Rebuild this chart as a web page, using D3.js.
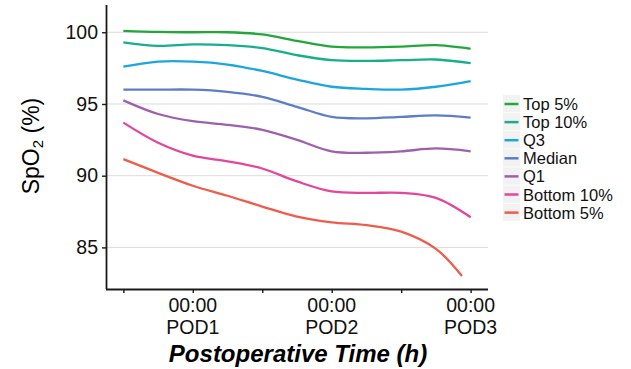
<!DOCTYPE html>
<html><head><meta charset="utf-8">
<script src="https://cdn.jsdelivr.net/npm/d3@7"></script>
<style>body{margin:0;background:#fff}svg{display:block}text{font-family:"Liberation Sans",Arial,Helvetica,sans-serif}</style>
</head><body><svg id="c" width="631" height="369"></svg>
<script>
const hours = [12,18,24,30,36,42,48,54,60,66,72];
const hoursB5 = [12,18,24,30,36,42,48,54,60,66,70.5];
const seriesNames = ["Top 5%","Top 10%","Q3","Median","Q1","Bottom 10%","Bottom 5%"];
const colors = ["#22a83a","#17ae8b","#1ba6de","#5d7ec6","#9d60ae","#e2479b","#ee5d4b"];
const top5 = [100.1,100.02,100.0,100.0,99.85,99.4,99.0,98.95,99.0,99.1,98.85];
const top10 = [99.3,99.05,99.15,99.1,98.9,98.4,98.05,98.0,98.05,98.1,97.85];
const q3 = [97.6,97.95,97.95,97.75,97.3,96.7,96.2,96.05,96.0,96.2,96.6];
const median = [96.0,96.0,96.0,95.85,95.5,94.8,94.1,94.0,94.1,94.2,94.05];
const q1 = [95.25,94.3,93.8,93.55,93.2,92.5,91.7,91.6,91.7,91.9,91.7];
const bottom10 = [93.7,92.3,91.4,91.0,90.5,89.6,88.9,88.8,88.8,88.45,87.1];
const bottom5 = [91.15,90.2,89.3,88.6,87.85,87.15,86.75,86.55,86.1,84.9,83.0];
const yTicks = [85,90,95,100];
const xTicks = [12,24,36,48,60,72];
const xTickLabels = {24:["00:00","POD1"],48:["00:00","POD2"],72:["00:00","POD3"]};

const allSeries = [top5,top10,q3,median,q1,bottom10,bottom5];
const allHours = [hours,hours,hours,hours,hours,hours,hoursB5];

const svg = d3.select("#c");
const L=106, R=488, T=5, B=289;
const x = d3.scaleLinear().domain([9,75]).range([L,R]);
const y = d3.scaleLinear().domain([82.1,101.9]).range([B,T]);

// gridlines
svg.append("g").selectAll("line").data(yTicks).join("line")
  .attr("x1",L).attr("x2",R).attr("y1",d=>y(d)).attr("y2",d=>y(d))
  .attr("stroke","#dcdcdc").attr("stroke-width",1);

// lines
const line = d3.line().curve(d3.curveCatmullRom.alpha(0.5));
allSeries.forEach((s,i)=>{
  const pts = s.map((v,j)=>[x(allHours[i][j]), y(v)]);
  svg.append("path").attr("d",line(pts)).attr("fill","none")
    .attr("stroke",colors[i]).attr("stroke-width",2.3).attr("stroke-linecap","butt");
});

// y axis
const yAxis = svg.append("g").attr("transform",`translate(${L},0)`)
  .call(d3.axisLeft(y).tickValues(yTicks).tickSize(4).tickPadding(4).tickSizeOuter(0));
yAxis.select(".domain").attr("stroke","#1a1a1a").attr("stroke-width",1.8).attr("d",`M0.5,${T}V${B}`);
yAxis.selectAll(".tick line").attr("stroke","#1a1a1a").attr("stroke-width",1.4);
yAxis.selectAll(".tick text").attr("font-size",19.5).attr("fill","#111")
  .attr("font-family","'Liberation Sans',Arial,sans-serif");

// x axis
const xAxis = svg.append("g").attr("transform",`translate(0,${B})`)
  .call(d3.axisBottom(x).tickValues(xTicks).tickSize(4).tickFormat("").tickSizeOuter(0));
xAxis.select(".domain").attr("stroke","#1a1a1a").attr("stroke-width",1.8).attr("d",`M${L},0.5H${R}`);
xAxis.selectAll(".tick line").attr("stroke","#1a1a1a").attr("stroke-width",1.4);
xTicks.forEach(h=>{
  const lab = xTickLabels[h]; if(!lab) return;
  const t = svg.append("text").attr("x",x(h)).attr("text-anchor","middle")
    .attr("font-size",19.5).attr("fill","#111");
  t.append("tspan").attr("x",x(h)).attr("y",311.5).text(lab[0]);
  t.append("tspan").attr("x",x(h)).attr("y",334).text(lab[1]);
});

// axis titles
svg.append("text").attr("x",298).attr("y",362).attr("text-anchor","middle")
  .attr("font-size",24).attr("font-weight","bold").attr("font-style","italic").attr("fill","#000")
  .text("Postoperative Time (h)");
const yt = svg.append("text").attr("transform",`translate(39,146) rotate(-90)`)
  .attr("text-anchor","middle").attr("font-size",23).attr("fill","#000");
yt.append("tspan").text("SpO");
yt.append("tspan").attr("font-size",15).attr("dy",4).text("2");
yt.append("tspan").attr("dy",-4).text(" (%)");

// legend
const lg = svg.append("g").attr("transform","translate(503,94)");
seriesNames.forEach((n,i)=>{
  const g = lg.append("g").attr("transform",`translate(0,${i*18.1})`);
  g.append("rect").attr("x",0).attr("y",1).attr("width",17).attr("height",17.3).attr("fill","#f2f2f2");
  g.append("line").attr("x1",1.5).attr("x2",15.5).attr("y1",10).attr("y2",10)
    .attr("stroke",colors[i]).attr("stroke-width",2.5);
  g.append("text").attr("x",20).attr("y",16).attr("font-size",16.5).attr("fill","#111").text(n);
});
</script></body></html>
